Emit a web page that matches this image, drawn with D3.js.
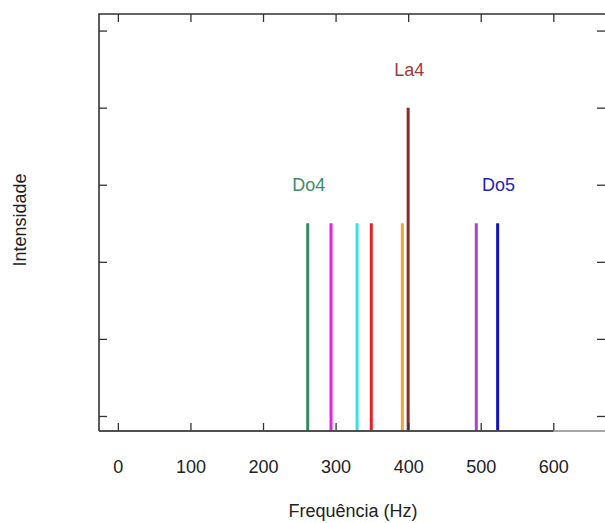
<!DOCTYPE html>
<html>
<head>
<meta charset="utf-8">
<script src="https://cdn.jsdelivr.net/npm/d3@7"></script>
<style>
  html, body { margin: 0; padding: 0; background: #fff; }
  svg { display: block; font-family: "Liberation Sans", Arial, sans-serif; }
</style>
</head>
<body>
<svg id="chart" width="605" height="523"></svg>
<script>
// Note frequencies (Hz) and their relative intensities
const frequencies = [261.6, 293.7, 329.6, 349.2, 392.0, 400.0, 493.9, 523.3];
const intensities = [0.5, 0.5, 0.5, 0.5, 0.5, 0.8, 0.5, 0.5];
const lineColors = ["#318a61", "#e61ee6", "#33e0e6", "#e52222", "#f2a531", "#8e2a2a", "#a244e0", "#1212c4"];

// Named notes shown above their lines
const noteNames = ["Do4", "La4", "Do5"];
const noteFrequencies = [261.6, 400.0, 523.3];
const noteIntensities = [0.5, 0.8, 0.5];
const noteColors = ["#3d8a66", "#a33a3a", "#2323b8"];

const xTicks = [0, 100, 200, 300, 400, 500, 600];
const yTicks = [0, 0.2, 0.4, 0.6, 0.8, 1.0];

const svg = d3.select("#chart");
const plotLeft = 99, plotRight = 607, plotTop = 14, plotBottom = 431;
const tick = 8;

const x = d3.scaleLinear().domain([-26, 674]).range([plotLeft, plotRight]);
const y = d3.scaleLinear().domain([-0.039, 1.043]).range([plotBottom, plotTop]);

// Impulse lines rising from the bottom of the plot
svg.append("g")
  .selectAll("line")
  .data(frequencies)
  .join("line")
  .attr("x1", d => x(d))
  .attr("x2", d => x(d))
  .attr("y1", y(y.domain()[0]))
  .attr("y2", (d, i) => y(intensities[i]))
  .attr("stroke", (d, i) => lineColors[i])
  .attr("stroke-width", 3);

// Bottom axis with labels, ticks pointing inward
const gx = svg.append("g")
  .attr("transform", `translate(0,${plotBottom})`)
  .call(d3.axisBottom(x).tickValues(xTicks).tickFormat(d3.format("d"))
    .tickSizeInner(-tick).tickSizeOuter(0).tickPadding(29));
gx.select(".domain").remove();
gx.selectAll(".tick line").attr("stroke", "#333").attr("stroke-width", 1.3);
gx.selectAll(".tick text").attr("font-size", 18).attr("fill", "#222")
  .attr("font-family", "Liberation Sans, Arial, sans-serif");

// Mirrored top ticks
const gt = svg.append("g")
  .attr("transform", `translate(0,${plotTop})`)
  .call(d3.axisTop(x).tickValues(xTicks).tickFormat("")
    .tickSizeInner(-tick).tickSizeOuter(0));
gt.select(".domain").remove();
gt.selectAll(".tick line").attr("stroke", "#333").attr("stroke-width", 1.3);

// Left and right ticks without labels
const gl = svg.append("g")
  .attr("transform", `translate(${plotLeft},0)`)
  .call(d3.axisLeft(y).tickValues(yTicks).tickFormat("")
    .tickSizeInner(-tick).tickSizeOuter(0));
gl.select(".domain").remove();
gl.selectAll(".tick line").attr("stroke", "#333").attr("stroke-width", 1.3);

const gr = svg.append("g")
  .attr("transform", `translate(${plotRight},0)`)
  .call(d3.axisRight(y).tickValues(yTicks).tickFormat("")
    .tickSizeInner(-(tick + 2)).tickSizeOuter(0));
gr.select(".domain").remove();
gr.selectAll(".tick line").attr("stroke", "#333").attr("stroke-width", 1.3);

// Plot frame
svg.append("path")
  .attr("d", `M${plotLeft},${plotBottom}V${plotTop}H${plotRight}`)
  .attr("fill", "none").attr("stroke", "#333").attr("stroke-width", 1.6);
svg.append("line")
  .attr("x1", plotLeft).attr("x2", plotRight).attr("y1", plotBottom).attr("y2", plotBottom)
  .attr("stroke", "#888").attr("stroke-width", 1.6);
svg.append("line")
  .attr("x1", plotLeft).attr("x2", x(600)).attr("y1", plotBottom).attr("y2", plotBottom)
  .attr("stroke", "#333").attr("stroke-width", 1.6);

// Note labels above selected lines
svg.append("g")
  .selectAll("text")
  .data(noteNames)
  .join("text")
  .attr("x", (d, i) => x(noteFrequencies[i]) + 1)
  .attr("y", (d, i) => y(noteIntensities[i] + 0.083))
  .attr("text-anchor", "middle")
  .attr("font-size", 18)
  .attr("fill", (d, i) => noteColors[i])
  .text(d => d);

// Axis titles
svg.append("text")
  .attr("x", 353).attr("y", 517)
  .attr("text-anchor", "middle")
  .attr("font-size", 18).attr("fill", "#222")
  .text("Frequência (Hz)");

svg.append("text")
  .attr("transform", "translate(25.5,220) rotate(-90)")
  .attr("text-anchor", "middle")
  .attr("font-size", 18).attr("fill", "#222")
  .text("Intensidade");
</script>
</body>
</html>
